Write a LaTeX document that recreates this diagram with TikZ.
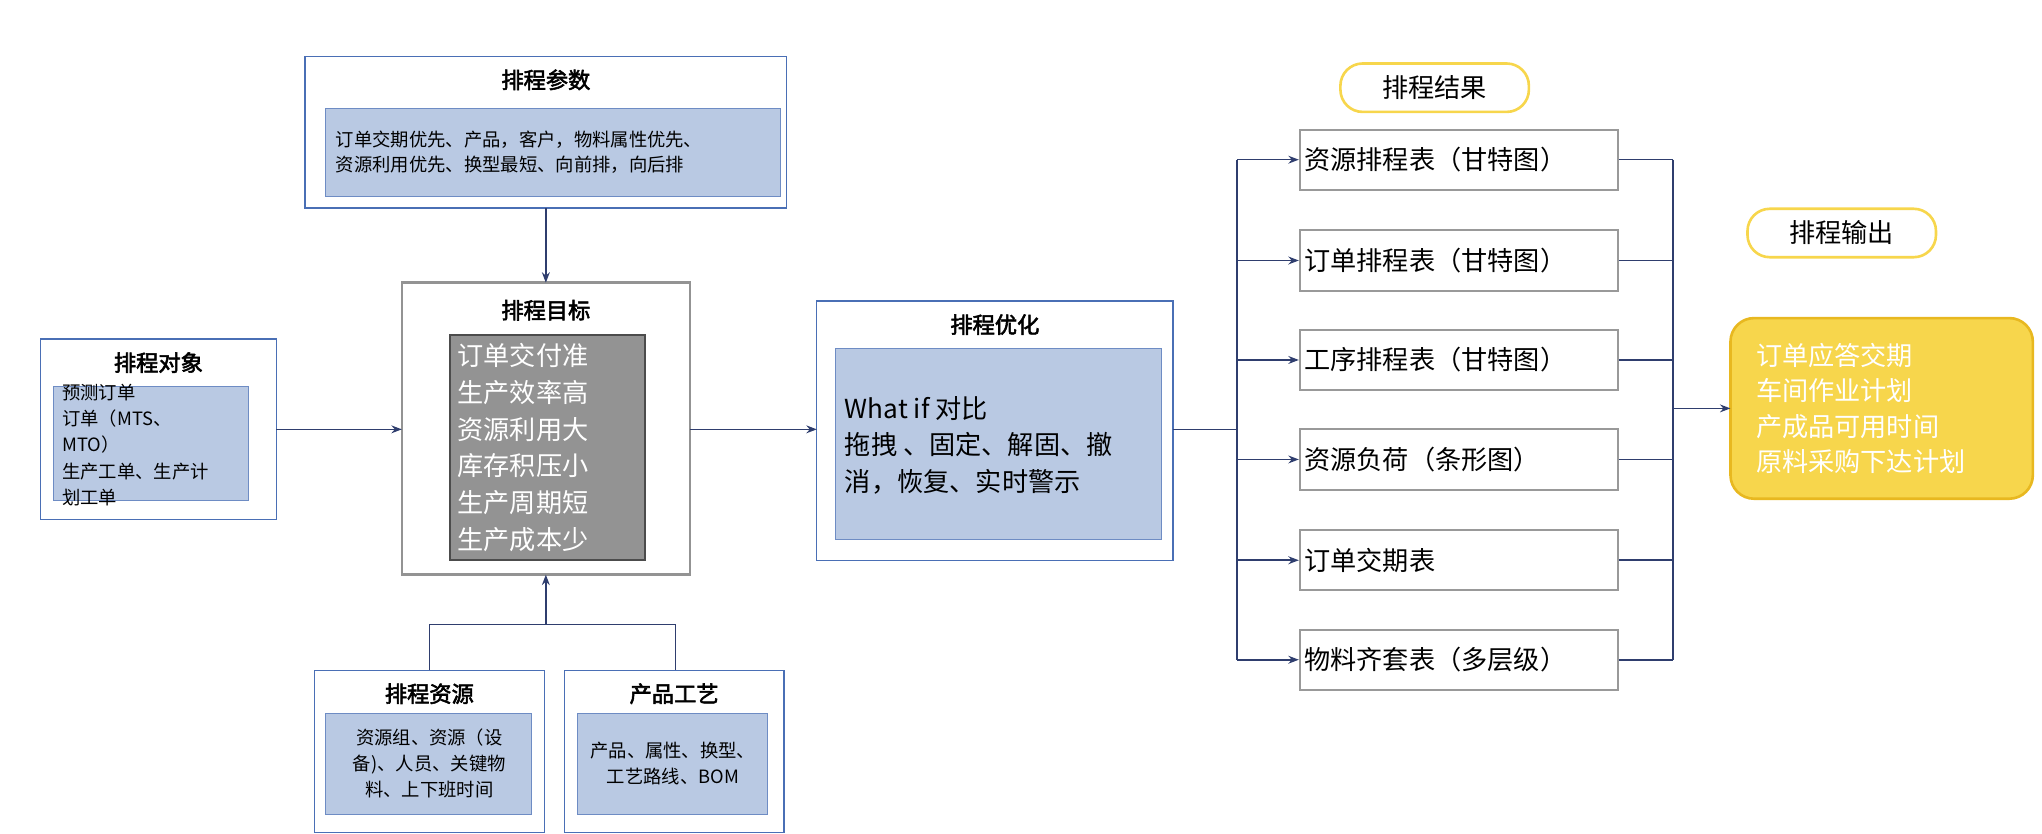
\documentclass[tikz,border=0pt]{standalone}
\usepackage{fontspec}
\setmainfont[AutoFakeBold=2.5]{Noto Sans CJK SC}
\usetikzlibrary{arrows.meta}
\definecolor{frameblue}{HTML}{4A6FB5}
\definecolor{innerblue}{HTML}{B9C9E3}
\definecolor{navy}{HTML}{2F3E6E}
\definecolor{gold}{HTML}{F7D64C}
\definecolor{goldline}{HTML}{E8B820}
\tikzset{
  outerbox/.style={draw=frameblue, line width=1pt, fill=white},
  innerbox/.style={draw=frameblue!80, fill=innerblue, line width=0.8pt},
  resbox/.style={draw=gray!80, line width=1.5pt, fill=white},
  pill/.style={draw=gold, line width=2pt, rounded corners=17pt, fill=white, minimum width=144pt, minimum height=37pt, font=\fontsize{20}{24}\selectfont},
  title/.style={font=\bfseries\fontsize{17}{20}\selectfont},
  conn/.style={draw=navy, line width=1.2pt},
  arr/.style={conn, -{Stealth[length=8pt,width=6pt]}}
}
\begin{document}
\begin{tikzpicture}[x=1pt,y=-1pt]
\useasboundingbox (0,0) rectangle (1560,637);
% Parameters
\draw[outerbox] (233,43) rectangle (601,159);
\node[title] (parT) at (417,61) {排程参数};
\draw[innerbox] (249,83) rectangle (596,150);
\node[anchor=west, align=left, font=\fontsize{14}{19}\selectfont] (parX) at (253,116) {订单交期优先、产品，客户，物料属性优先、\\资源利用优先、换型最短、向前排，向后排};
% Goal
\draw[draw=gray!85, line width=2pt, fill=white] (307,216) rectangle (527,439);
\node[title] (goalT) at (417,237) {排程目标};
\draw[draw=gray!60!black, line width=1.5pt, fill=gray!85] (344,256) rectangle (493,428);
\node[anchor=north west, align=left, text=white, font=\fontsize{20}{28}\selectfont] (goalX) at (346,259)
  {订单交付准\\生产效率高\\资源利用大\\库存积压小\\生产周期短\\生产成本少};
% Object
\draw[outerbox] (31,259) rectangle (211,397);
\node[title] (objT) at (121,277) {排程对象};
\draw[innerbox] (41,295) rectangle (190,382);
\node[anchor=north west, align=left, font=\fontsize{14}{20}\selectfont] (objX) at (44,290)
  {预测订单\\订单（MTS、\\MTO）\\生产工单、生产计\\划工单};
% Resources
\draw[outerbox] (240,512) rectangle (416,636);
\node[title] (resT) at (328,530) {排程资源};
\draw[innerbox] (249,545) rectangle (406,622);
\node[align=center, font=\fontsize{14}{20}\selectfont] (resX) at (328,583) {资源组、资源（设\\备)、人员、关键物\\料、上下班时间};
% Process
\draw[outerbox] (431,512) rectangle (599,636);
\node[title] (proT) at (515,530) {产品工艺};
\draw[innerbox] (441,545) rectangle (586,622);
\node[align=center, font=\fontsize{14}{20}\selectfont] (proX) at (514,583) {产品、属性、换型、\\工艺路线、BOM};
% Optimisation
\draw[outerbox] (624,230) rectangle (896,428);
\node[title] (optT) at (760,248) {排程优化};
\draw[innerbox] (638,266) rectangle (887,412);
\node[anchor=west, align=left, font=\fontsize{20}{28}\selectfont] (optX) at (642,340) {What if 对比\\拖拽 、固定、解固、撤\\消，恢复、实时警示};
% connectors left part
\coordinate (parB) at (417,159);
\coordinate (goalN) at (417,216);
\draw[arr] (parB) -- (goalN);
\coordinate (objE) at (211,328);
\coordinate (goalW) at (307,328);
\draw[arr] (objE) -- (goalW);
\coordinate (goalS) at (417,439);
\coordinate (joinS) at (417,477);
\draw[conn] (328,512) -- (328,477) -- (516,477) -- (516,512);
\draw[arr] (joinS) -- (goalS);
\coordinate (goalE) at (527,328);
\coordinate (optW) at (624,328);
\draw[arr] (goalE) -- (optW);
% Results
\node[pill] (resPill) at (1096,67) {排程结果};
\draw[conn] (896,328) -- (945,328);
\draw[conn] (945,122) -- (945,504);
\draw[conn] (1278,122) -- (1278,504);
\foreach \y/\txt [count=\i] in {122/资源排程表（甘特图）, 199/订单排程表（甘特图）, 275/工序排程表（甘特图）, 351/资源负荷（条形图）, 428/订单交期表, 504/物料齐套表（多层级）}{
  \node[resbox, minimum width=243pt, minimum height=46pt] (out\i) at (1114.5,\y) {};
  \node[anchor=west, font=\fontsize{20}{24}\selectfont] (outX\i) at (993,\y) {\txt};
  \draw[arr] (945,\y) -- (out\i.west);
  \draw[conn] (out\i.east) -- (1278,\y);
}
% Output
\node[pill] (outPill) at (1407,178) {排程输出};
\draw[draw=goldline, fill=gold, line width=2pt, rounded corners=18pt] (1322,243) rectangle (1553,381);
\node[anchor=west, align=left, text=white, font=\fontsize{20}{27}\selectfont] (outText) at (1338,312)
  {订单应答交期\\车间作业计划\\产成品可用时间\\原料采购下达计划};
\coordinate (joinE) at (1278,312);
\coordinate (finW) at (1322,312);
\draw[arr] (joinE) -- (finW);
\end{tikzpicture}
\end{document}
